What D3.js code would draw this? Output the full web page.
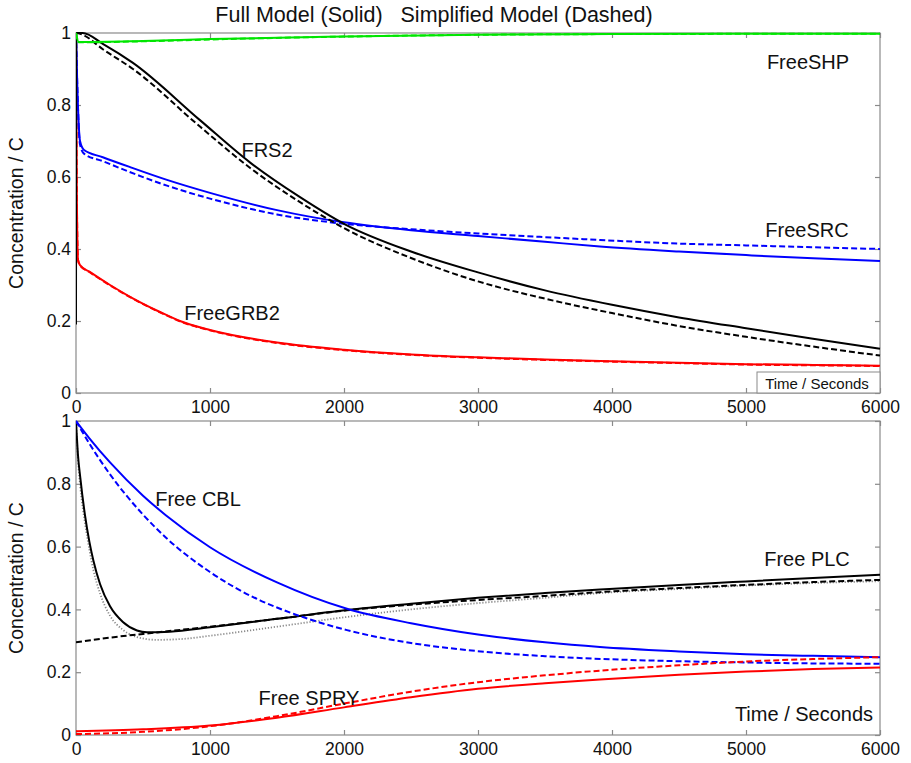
<!DOCTYPE html>
<html><head><meta charset="utf-8">
<script src="https://cdn.jsdelivr.net/npm/d3@7"></script>
<style>body{margin:0;background:#fff}svg{display:block}text{font-family:"Liberation Sans",Arial,sans-serif;white-space:pre}</style>
</head><body><svg id="c" width="911" height="763"></svg>
<script>
// ---------- data ----------
const xTicks = [0,1000,2000,3000,4000,5000,6000];
const yTicks = [0,0.2,0.4,0.6,0.8,1];
const yTickLabels = ["0","0.2","0.4","0.6","0.8","1"];

// Top panel
const shpT     = [0,20,500,1000,2000,3000,4000,6000];
const shpFull  = [1,0.975,0.978,0.983,0.99,0.995,0.997,0.998];
const shpSimp  = [1,0.974,0.977,0.982,0.99,0.995,0.997,0.998];

const frs2T    = [0,2,50,200,425,925,1300,1672,2000,2500,3000,3500,4000,4500,5000,5500,6000];
const frs2Full = [0.19,1,1.0,0.97,0.917,0.758,0.64,0.544,0.47,0.393,0.335,0.285,0.245,0.21,0.18,0.151,0.123];
const frs2Simp = [1,1,0.995,0.955,0.9,0.74,0.625,0.53,0.458,0.375,0.31,0.262,0.222,0.186,0.156,0.129,0.104];

const srcT     = [0,10,30,60,200,400,679,1000,1500,2000,2500,3000,3500,3910,4500,5000,5500,6000];
const srcFull  = [1,0.85,0.7,0.675,0.655,0.628,0.592,0.556,0.508,0.474,0.452,0.436,0.42,0.407,0.393,0.383,0.374,0.367];
const srcSimp  = [1,0.85,0.69,0.665,0.644,0.614,0.576,0.54,0.496,0.47,0.455,0.443,0.433,0.425,0.415,0.41,0.405,0.4];

const grbT     = [0,5,15,30,100,254,400,627,776,1000,1500,2000,2500,3000,3500,3910,4500,5000,5500,6000];
const grbFull  = [1,0.6,0.37,0.355,0.337,0.3,0.268,0.225,0.2,0.175,0.14,0.12,0.107,0.099,0.093,0.089,0.084,0.08,0.078,0.076];
const grbSimp  = [1,0.6,0.37,0.354,0.336,0.299,0.267,0.224,0.199,0.174,0.139,0.119,0.106,0.098,0.092,0.088,0.083,0.079,0.077,0.075];

// Bottom panel
const cblT     = [0,100,254,500,670,1000,1500,2022,2500,3000,3500,3910,4500,5000,5500,6000];
const cblFull  = [1,0.945,0.868,0.762,0.70,0.598,0.486,0.402,0.356,0.32,0.295,0.28,0.266,0.257,0.252,0.248];
const cblSimpT = [0,100,254,500,670,1000,1373,1500,2022,2500,3000,3500,4000,4500,5000,5500,6000];
const cblSimp  = [1,0.928,0.83,0.702,0.629,0.519,0.429,0.406,0.334,0.293,0.267,0.251,0.241,0.235,0.231,0.228,0.227];

const plcT     = [0,15,32,67,100,130,180,254,350,455,530,700,1000,1500,2022,2500,3000,3500,3910,4500,4903,5500,6000];
const plcFull  = [1,0.89,0.82,0.70,0.615,0.555,0.48,0.41,0.36,0.333,0.327,0.329,0.343,0.37,0.398,0.418,0.437,0.452,0.463,0.478,0.487,0.5,0.51];
const plcSimpT = [0,250,500,1000,1500,2022,2500,3000,3500,3910,4500,5000,5500,6000];
const plcSimp  = [0.295,0.31,0.322,0.345,0.37,0.397,0.415,0.43,0.443,0.455,0.468,0.478,0.487,0.494];
const plcDotT  = [0,15,32,67,100,130,180,254,350,455,600,800,1000,1500,2022,2500,3000,3500,3910,4500,5000,5500,6000];
const plcDot   = [1,0.875,0.79,0.675,0.59,0.525,0.45,0.38,0.335,0.312,0.303,0.306,0.316,0.345,0.376,0.4,0.42,0.437,0.452,0.465,0.476,0.484,0.49];

const spryT    = [0,500,1000,1500,2000,2500,3000,3500,3910,4500,5000,5500,6000];
const spryFull = [0.012,0.018,0.03,0.055,0.088,0.12,0.147,0.165,0.177,0.192,0.202,0.21,0.215];
const sprySimp = [0.003,0.01,0.028,0.06,0.1,0.138,0.168,0.19,0.205,0.222,0.234,0.242,0.248];

// ---------- drawing ----------
const svg = d3.select("#c");
const L = 76, R = 880;
const panels = [{top:33,bottom:393},{top:421,bottom:735}];
const x = d3.scaleLinear().domain([0,6000]).range([L,R]);

function makePanel(p){
  const y = d3.scaleLinear().domain([0,1]).range([p.bottom,p.top]);
  const g = svg.append("g");
  g.append("rect").attr("x",L).attr("y",p.top).attr("width",R-L).attr("height",p.bottom-p.top)
    .attr("fill","none").attr("stroke","#8a8a8a").attr("stroke-width",1.2);
  const tk = 5;
  const ax = [
    d3.axisBottom(x).tickValues(xTicks).tickSize(-tk).tickFormat(d=>d),
    d3.axisTop(x).tickValues(xTicks).tickSize(-tk).tickFormat(""),
    d3.axisLeft(y).tickValues(yTicks).tickSize(-tk).tickFormat((d,i)=>yTickLabels[i]),
    d3.axisRight(y).tickValues(yTicks).tickSize(-tk).tickFormat("")
  ];
  const pos = [[0,p.bottom],[0,p.top],[L,0],[R,0]];
  ax.forEach((a,i)=>{
    const ag = g.append("g").attr("transform",`translate(${pos[i][0]},${pos[i][1]})`).call(a);
    ag.select(".domain").remove();
    ag.selectAll(".tick line").attr("stroke","#8a8a8a").attr("stroke-width",1.2);
    ag.selectAll(".tick text").attr("font-size",17.5).attr("fill","#111")
      .attr("font-family","'Liberation Sans',Arial,sans-serif");
    if(i===0) ag.selectAll(".tick text").attr("dy","0.95em");
    if(i===2) ag.selectAll(".tick text").attr("x",-5);
  });
  g.append("text").attr("transform",`translate(16,${(p.top+p.bottom)/2}) rotate(-90)`)
    .attr("text-anchor","middle").attr("dominant-baseline","central").attr("font-size",19.5).attr("fill","#111").text("Concentration / C");
  return y;
}
const yTop = makePanel(panels[0]);
const yBot = makePanel(panels[1]);

svg.append("clipPath").attr("id","ct").append("rect")
  .attr("x",L).attr("y",panels[0].top-2).attr("width",R-L+1).attr("height",panels[0].bottom-panels[0].top+3);
svg.append("clipPath").attr("id","cb").append("rect")
  .attr("x",L).attr("y",panels[1].top-2).attr("width",R-L+1).attr("height",panels[1].bottom-panels[1].top+3);

function draw(y, clip, T, V, color, style){
  const line = d3.line().x((d,i)=>x(T[i])).y(d=>y(d)).curve(d3.curveMonotoneX);
  const p = svg.append("path").datum(V).attr("d",line).attr("fill","none")
    .attr("stroke",color).attr("clip-path",`url(#${clip})`);
  if(style==="solid") p.attr("stroke-width",2);
  if(style==="dash") p.attr("stroke-width",2).attr("stroke-dasharray","6,3");
  if(style==="dot") p.attr("stroke-width",1.8).attr("stroke-dasharray","1.2,1.8");
}
// top
draw(yTop,"ct",grbT,grbSimp,"#ff0000","dash");
draw(yTop,"ct",grbT,grbFull,"#ff0000","solid");
draw(yTop,"ct",srcT,srcFull,"#0000ff","solid");
draw(yTop,"ct",srcT,srcSimp,"#0000ff","dash");
draw(yTop,"ct",frs2T,frs2Full,"#000000","solid");
draw(yTop,"ct",frs2T,frs2Simp,"#000000","dash");
draw(yTop,"ct",shpT,shpFull,"#00e600","solid");
draw(yTop,"ct",shpT,shpSimp,"#00e600","dash");
// bottom
draw(yBot,"cb",plcDotT,plcDot,"#888888","dot");
draw(yBot,"cb",plcSimpT,plcSimp,"#000000","dash");
draw(yBot,"cb",plcT,plcFull,"#000000","solid");
draw(yBot,"cb",cblT,cblFull,"#0000ff","solid");
draw(yBot,"cb",cblSimpT,cblSimp,"#0000ff","dash");
draw(yBot,"cb",spryT,spryFull,"#ff0000","solid");
draw(yBot,"cb",spryT,sprySimp,"#ff0000","dash");

// labels
const lab = (tx,ty,s,fs)=>svg.append("text").attr("x",tx).attr("y",ty).attr("font-size",fs||20)
  .attr("fill","#111").attr("text-anchor","middle").attr("dominant-baseline","central").text(s);
lab(434,15,"Full Model (Solid)   Simplified Model (Dashed)",21.5);
lab(808,62,"FreeSHP");
lab(267,150,"FRS2");
lab(807,230,"FreeSRC");
lab(232,313,"FreeGRB2");
lab(198,499,"Free CBL");
lab(807,559,"Free PLC");
lab(309,698,"Free SPRY");
lab(804,714,"Time / Seconds");
svg.append("rect").attr("x",757).attr("y",372).attr("width",123).attr("height",21)
  .attr("fill","#fff").attr("stroke","#8a8a8a").attr("stroke-width",1);
lab(817,383,"Time / Seconds",15);
</script></body></html>
